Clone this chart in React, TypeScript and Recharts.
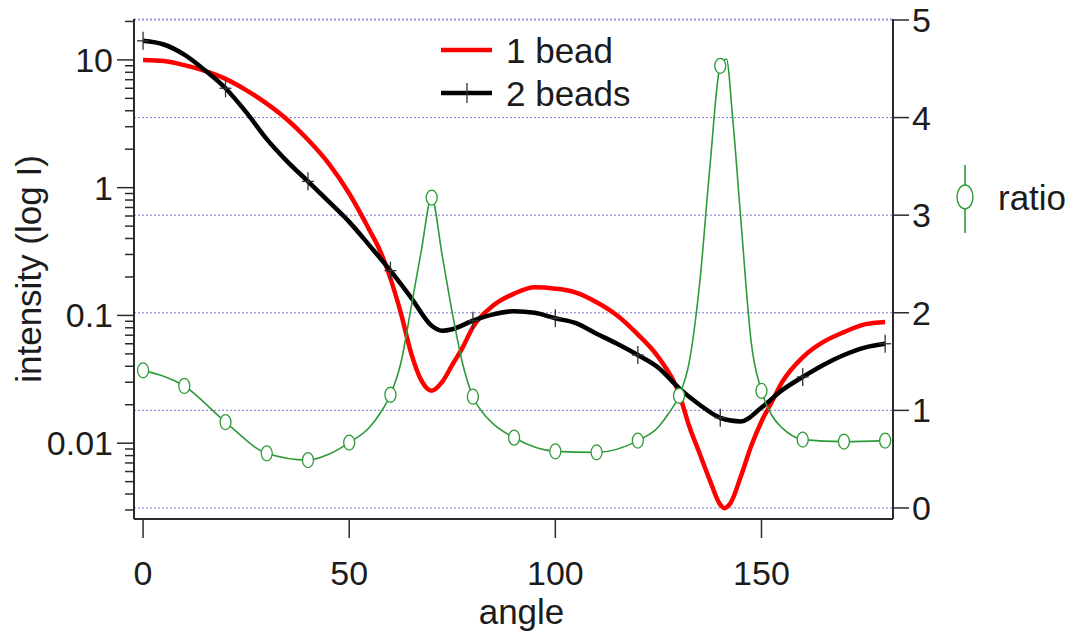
import { ComposedChart, Line, XAxis, YAxis, CartesianGrid, Customized } from 'recharts';

const FONT = '"Liberation Sans", Arial, Helvetica, sans-serif';
const INK = '#1c1c1c';
const AXIS = '#2b2b2b';
const RED = '#ff0000';
const BLACK = '#000000';
const GREEN = '#2f9a3a';
const GRID = '#7c7cd8';

// axis ticks
const angleTicks = [0, 50, 100, 150];
const intensityTicks = [
  0.003, 0.004, 0.005, 0.006, 0.007, 0.008, 0.009,
  0.01, 0.02, 0.03, 0.04, 0.05, 0.06, 0.07, 0.08, 0.09,
  0.1, 0.2, 0.3, 0.4, 0.5, 0.6, 0.7, 0.8, 0.9,
  1, 2, 3, 4, 5, 6, 7, 8, 9,
  10, 20,
];
const ratioTicks = [0, 1, 2, 3, 4, 5];

// 1 bead (left axis, log)
const oneBeadAngle = [
  0, 5, 10, 15, 20, 25, 30, 35, 40, 45, 50, 55, 57.5, 60, 62.5, 65, 67.5, 70, 72.5, 75,
  77.5, 80, 85, 90, 95, 100, 105, 110, 115, 120, 125, 130, 132.5, 135, 137.5, 140, 141,
  142.5, 145, 147.5, 150, 152.5, 155, 160, 165, 170, 175, 180,
];
const oneBeadIntensity = [
  10, 9.8, 9.1, 8.2, 7.1, 5.8, 4.55, 3.4, 2.37, 1.55, 0.9, 0.46, 0.32, 0.195, 0.105, 0.051,
  0.031, 0.0257, 0.03, 0.041, 0.056, 0.081, 0.12, 0.148, 0.166, 0.162, 0.151, 0.127, 0.1,
  0.071, 0.047, 0.0245, 0.0135, 0.0083, 0.0051, 0.0033, 0.0031, 0.0034, 0.0055, 0.0095,
  0.0148, 0.021, 0.03, 0.047, 0.062, 0.074, 0.085, 0.089,
];

// 2 beads (left axis, log)
const twoBeadAngle = [
  0, 5, 10, 15, 20, 25, 30, 35, 40, 45, 50, 55, 60, 65, 70, 72.5, 75, 80, 85, 90, 95, 100,
  105, 110, 115, 120, 125, 130, 135, 140, 145, 150, 155, 160, 165, 170, 175, 180,
];
const twoBeadIntensity = [
  14.1, 13.2, 11.0, 8.3, 6.0, 3.9, 2.4, 1.6, 1.12, 0.78, 0.54, 0.35, 0.224, 0.138, 0.083,
  0.076, 0.078, 0.091, 0.102, 0.108, 0.105, 0.095, 0.087, 0.072, 0.06, 0.049, 0.039, 0.027,
  0.02, 0.0158, 0.0148, 0.019, 0.026, 0.033, 0.041, 0.049, 0.056, 0.06,
];

// ratio (right axis)
const ratioAngle = [
  0, 10, 20, 30, 40, 45, 50, 55, 57.5, 60, 62.5, 65, 67.5, 70, 72.5, 75, 77.5, 80, 82.5, 85,
  90, 100, 110, 120, 125, 127.5, 130, 132.5, 135, 137.5, 140, 141.5, 143, 145, 147.5, 150,
  152.5, 155, 157.5, 160, 170, 180,
];
const ratioValue = [
  1.41, 1.25, 0.88, 0.56, 0.49, 0.55, 0.67, 0.83, 0.97, 1.16, 1.48, 2.05, 2.64, 3.18, 2.6,
  2.0, 1.48, 1.14, 0.97, 0.86, 0.72, 0.58, 0.57, 0.69, 0.83, 0.97, 1.15, 1.5, 2.3, 3.5, 4.53,
  4.6, 4.0, 2.95, 1.7, 1.2, 0.95, 0.82, 0.74, 0.7, 0.68, 0.69,
];

const NAMES = { one: '1 bead', two: '2 beads', ratio: 'ratio' };

const oneBead = oneBeadAngle.map((angle, i) => ({ angle, intensity: oneBeadIntensity[i] }));
const twoBeads = twoBeadAngle.map((angle, i) => ({ angle, intensity: twoBeadIntensity[i] }));
const ratio = ratioAngle.map((angle, i) => ({ angle, ratio: ratioValue[i] }));

const isDecade = (v: number) => Math.abs(Math.log10(v) - Math.round(Math.log10(v))) < 1e-9;

function LogTick(props: any) {
  const { x, y, payload } = props;
  const major = isDecade(payload.value);
  return (
    <g>
      <line x1={x - (major ? 17 : 9)} x2={x} y1={y} y2={y} stroke={AXIS} strokeWidth={1.5} />
      {major && (
        <text x={x - 21} y={y} textAnchor="end" dominantBaseline="central"
          fontFamily={FONT} fontSize={34} fill={INK}>
          {String(payload.value)}
        </text>
      )}
    </g>
  );
}

function RatioTick(props: any) {
  const { x, y, payload } = props;
  return (
    <g>
      <line x1={x} x2={x + 16} y1={y} y2={y} stroke={AXIS} strokeWidth={1.5} />
      <text x={x + 19} y={y} textAnchor="start" dominantBaseline="central"
        fontFamily={FONT} fontSize={34} fill={INK}>
        {payload.value}
      </text>
    </g>
  );
}

function AngleTick(props: any) {
  const { x, y, payload } = props;
  return (
    <g>
      <line x1={x} x2={x} y1={y} y2={y + 19} stroke={AXIS} strokeWidth={1.5} />
      <text x={x} y={y + 66} textAnchor="middle" fontFamily={FONT} fontSize={34} fill={INK}>
        {payload.value}
      </text>
    </g>
  );
}

function YTitle(props: any) {
  const vb = props.viewBox || { x: 0, y: 19, width: 134, height: 500 };
  const cx = vb.x + 28.5;
  const cy = vb.y + vb.height / 2;
  return (
    <text transform={`translate(${cx},${cy}) rotate(-90)`} textAnchor="middle"
      dominantBaseline="central" fontFamily={FONT} fontSize={35} fill={INK}>
      intensity (log I)
    </text>
  );
}

function XTitle(props: any) {
  const vb = props.viewBox || { x: 134, y: 519, width: 759, height: 100 };
  return (
    <text x={vb.x + vb.width / 2 + 8} y={vb.y + 105} textAnchor="middle"
      fontFamily={FONT} fontSize={35} fill={INK}>
      angle
    </text>
  );
}

function PlusDot(props: any) {
  const { cx, cy, payload } = props;
  if (payload == null || payload.angle % 20 !== 0) return <g />;
  return (
    <g>
      <line x1={cx} x2={cx} y1={cy - 9} y2={cy + 9} stroke="#333" strokeWidth={1.3} />
      <line x1={cx - 6} x2={cx + 6} y1={cy} y2={cy} stroke="#333" strokeWidth={1.3} />
    </g>
  );
}

function RingDot(props: any) {
  const { cx, cy, payload } = props;
  if (payload == null || payload.angle % 10 !== 0) return <g />;
  return <ellipse cx={cx} cy={cy} rx={5.5} ry={7.5} fill="#fff" stroke={GREEN} strokeWidth={1.3} />;
}

function LegendLayer() {
  return (
    <g fontFamily={FONT} fontSize={35} fill={INK}>
      <line x1={441} x2={492} y1={50} y2={50} stroke={RED} strokeWidth={4.5} />
      <text x={506} y={50} dominantBaseline="central">{NAMES.one}</text>
      <line x1={441} x2={492} y1={93} y2={93} stroke={BLACK} strokeWidth={4.5} />
      <line x1={467} x2={467} y1={83} y2={103} stroke="#333" strokeWidth={1.3} />
      <text x={506} y={93} dominantBaseline="central">{NAMES.two}</text>
      <line x1={965} x2={965} y1={165} y2={233} stroke={GREEN} strokeWidth={1.6} />
      <ellipse cx={965} cy={197} rx={8} ry={12} fill="#fff" stroke={GREEN} strokeWidth={1.4} />
      <text x={998} y={197} dominantBaseline="central">{NAMES.ratio}</text>
    </g>
  );
}

export default function App() {
  return (
    <div style={{ position: 'absolute', left: 0, top: 0, width: 1070, height: 634, overflow: 'hidden', background: '#fff' }}>
      <ComposedChart width={1070} height={634} margin={{ top: 19, right: 117, bottom: 15, left: 0 }}>
        <CartesianGrid yAxisId="right" vertical={false} stroke={GRID} strokeDasharray="2 2" />
        <XAxis
          type="number"
          dataKey="angle"
          domain={[-2.2, 181.9]}
          allowDataOverflow
          ticks={angleTicks}
          interval={0}
          height={100}
          tickSize={0}
          tickMargin={0}
          tickLine={false}
          axisLine={{ stroke: AXIS, strokeWidth: 2 }}
          tick={<AngleTick />}
          label={<XTitle />}
        />
        <YAxis
          yAxisId="left"
          type="number"
          scale="log"
          domain={[0.00255, 20.9]}
          allowDataOverflow
          ticks={intensityTicks}
          interval={0}
          width={134}
          tickSize={0}
          tickMargin={0}
          tickLine={false}
          axisLine={{ stroke: AXIS, strokeWidth: 2 }}
          tick={<LogTick />}
          label={<YTitle />}
        />
        <YAxis
          yAxisId="right"
          orientation="right"
          type="number"
          domain={[-0.113, 5.01]}
          allowDataOverflow
          ticks={ratioTicks}
          interval={0}
          width={60}
          tickSize={0}
          tickMargin={0}
          tickLine={false}
          axisLine={{ stroke: AXIS, strokeWidth: 2 }}
          tick={<RatioTick />}
        />
        <Line
          yAxisId="left"
          data={oneBead}
          dataKey="intensity"
          name={NAMES.one}
          type="monotone"
          stroke={RED}
          strokeWidth={4.5}
          dot={false}
          activeDot={false}
          isAnimationActive={false}
        />
        <Line
          yAxisId="left"
          data={twoBeads}
          dataKey="intensity"
          name={NAMES.two}
          type="monotone"
          stroke={BLACK}
          strokeWidth={4.5}
          dot={<PlusDot />}
          activeDot={false}
          isAnimationActive={false}
        />
        <Line
          yAxisId="right"
          data={ratio}
          dataKey="ratio"
          name={NAMES.ratio}
          type="monotone"
          stroke={GREEN}
          strokeWidth={1.6}
          dot={<RingDot />}
          activeDot={false}
          isAnimationActive={false}
        />
        <Customized component={LegendLayer} />
      </ComposedChart>
    </div>
  );
}
